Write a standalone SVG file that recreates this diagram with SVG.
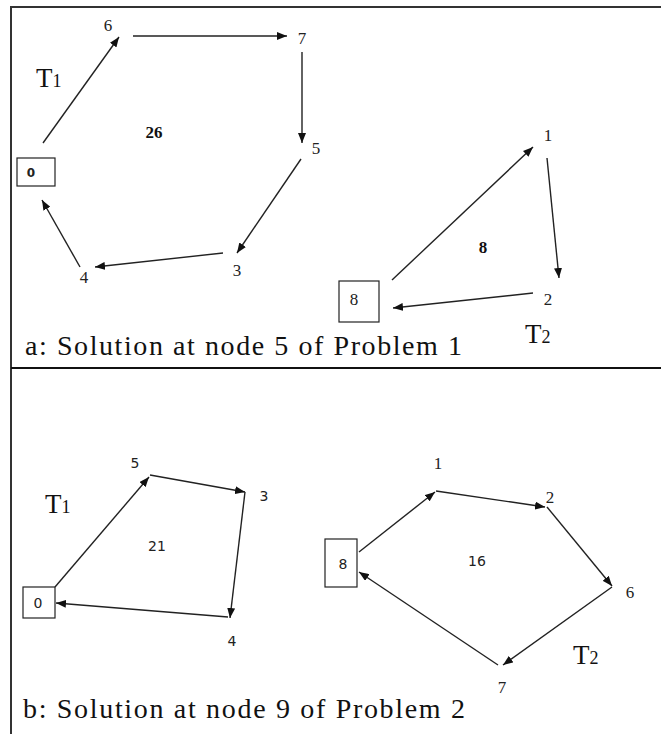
<svg xmlns="http://www.w3.org/2000/svg" width="661" height="734" viewBox="0 0 661 734">
<style>
.edge{stroke:#222;stroke-width:1.4;fill:none;marker-end:url(#ah)}
.box{fill:#fff;stroke:#222;stroke-width:1.2}
.ls{font-family:"Liberation Serif","Times New Roman",serif;font-size:17px;fill:#222;text-anchor:middle}
.lv{font-family:"DejaVu Sans",Verdana,sans-serif;font-size:14px;fill:#222;text-anchor:middle}
.cost{font-family:"Liberation Serif",serif;font-size:17px;font-weight:bold;fill:#111;text-anchor:middle}
.costb{font-family:"DejaVu Sans",Verdana,sans-serif;font-size:14px;fill:#222;text-anchor:middle}
.tr{font-family:"Liberation Serif","Times New Roman",serif;font-size:27px;fill:#111}
.sub{font-size:18px}
.cap{font-family:"Liberation Serif","Times New Roman",serif;font-size:28px;fill:#111}
.frame{stroke:#333;stroke-width:2;fill:none}
</style>
<defs>
<marker id="ah" markerUnits="userSpaceOnUse" markerWidth="10" markerHeight="8" refX="10" refY="4" orient="auto">
<path d="M0,0 L10,4 L0,8 z" fill="#111"/>
</marker>
</defs>
<g id="frame">
<line class="frame" x1="11" y1="7" x2="11" y2="734"/>
<line class="frame" x1="10" y1="7" x2="661" y2="7"/>
<line x1="11" y1="368" x2="661" y2="368" stroke="#111" stroke-width="2.2"/>
</g>
<g id="connectors">
<line class="edge" x1="43" y1="143" x2="119" y2="37"/>
<line class="edge" x1="133" y1="36" x2="287" y2="36"/>
<line class="edge" x1="302" y1="52" x2="302" y2="143"/>
<line class="edge" x1="301" y1="159" x2="237" y2="253"/>
<line class="edge" x1="223" y1="253" x2="95" y2="267"/>
<line class="edge" x1="80" y1="267" x2="42" y2="200"/>
<line class="edge" x1="392" y1="280" x2="533" y2="147"/>
<line class="edge" x1="547" y1="158" x2="559" y2="278"/>
<line class="edge" x1="533" y1="293" x2="393" y2="308"/>
<line class="edge" x1="55" y1="587" x2="149" y2="477"/>
<line class="edge" x1="150" y1="475" x2="245" y2="492"/>
<line class="edge" x1="245" y1="492" x2="230" y2="618"/>
<line class="edge" x1="228" y1="617" x2="56" y2="603"/>
<line class="edge" x1="359" y1="552" x2="435" y2="492"/>
<line class="edge" x1="436" y1="491" x2="545" y2="507"/>
<line class="edge" x1="547" y1="507" x2="612" y2="586"/>
<line class="edge" x1="612" y1="587" x2="503" y2="665"/>
<line class="edge" x1="498" y1="665" x2="359" y2="572"/>
</g>
<g id="a-node0"><rect class="box" x="17" y="158" width="38" height="28"/><text class="lv" x="31" y="177" style="font-size:12px;font-weight:bold">0</text></g>
<g id="a-node6"><text class="ls" x="108" y="31">6</text></g>
<g id="a-node7"><text class="ls" x="302" y="44">7</text></g>
<g id="a-node5"><text class="ls" x="316" y="154">5</text></g>
<g id="a-node3"><text class="ls" x="237" y="276">3</text></g>
<g id="a-node4"><text class="ls" x="84" y="283">4</text></g>
<g id="a-cost1"><text class="cost" x="154" y="138">26</text></g>
<g id="a-T1"><text class="tr" x="36" y="87">T<tspan class="sub">1</tspan></text></g>
<g id="a-node8"><rect class="box" x="339" y="281" width="40" height="41"/><text class="ls" x="354" y="305">8</text></g>
<g id="a-node1"><text class="ls" x="548" y="141">1</text></g>
<g id="a-node2"><text class="ls" x="548" y="305">2</text></g>
<g id="a-cost2"><text class="cost" x="483" y="253">8</text></g>
<g id="a-T2"><text class="tr" x="525" y="343">T<tspan class="sub">2</tspan></text></g>
<g id="a-caption"><text class="cap" x="25" y="355" textLength="437" lengthAdjust="spacing">a: Solution at node 5 of Problem 1</text></g>
<g id="b-node0"><rect class="box" x="23" y="587" width="32" height="31"/><text class="lv" x="38" y="608">0</text></g>
<g id="b-node5"><text class="lv" x="135" y="468">5</text></g>
<g id="b-node3"><text class="lv" x="264" y="501">3</text></g>
<g id="b-node4"><text class="lv" x="232" y="646">4</text></g>
<g id="b-cost1"><text class="costb" x="157" y="551">21</text></g>
<g id="b-T1"><text class="tr" x="45" y="513">T<tspan class="sub">1</tspan></text></g>
<g id="b-node8"><rect class="box" x="325" y="539" width="32" height="48"/><text class="lv" x="343" y="569">8</text></g>
<g id="b-node1"><text class="ls" x="438" y="469">1</text></g>
<g id="b-node2"><text class="ls" x="550" y="503">2</text></g>
<g id="b-node6"><text class="ls" x="630" y="598">6</text></g>
<g id="b-node7"><text class="ls" x="502" y="693">7</text></g>
<g id="b-cost2"><text class="costb" x="477" y="566">16</text></g>
<g id="b-T2"><text class="tr" x="573" y="664">T<tspan class="sub">2</tspan></text></g>
<g id="b-caption"><text class="cap" x="23" y="718" textLength="442" lengthAdjust="spacing">b: Solution at node 9 of Problem 2</text></g>
</svg>
